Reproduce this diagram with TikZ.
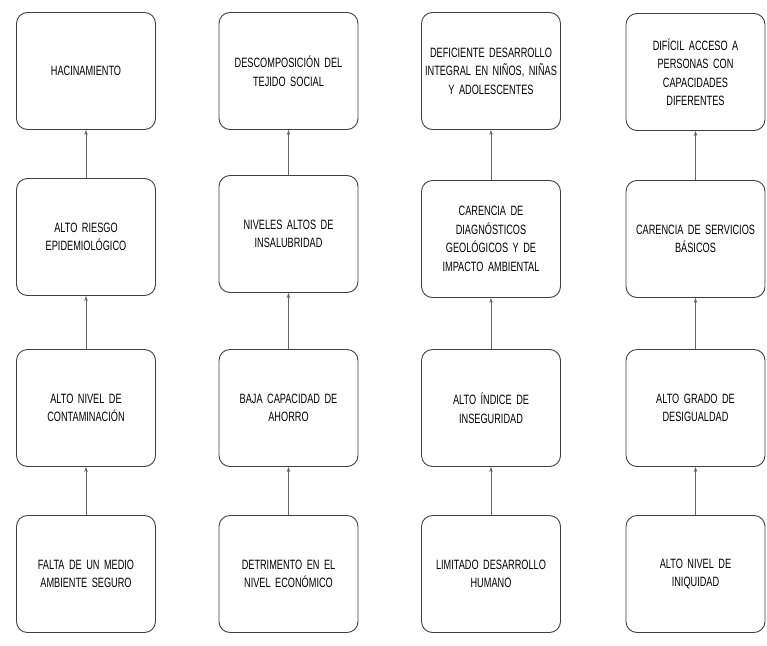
\documentclass[tikz,border=0pt]{standalone}
\usepackage{fontspec}
\setmainfont{Liberation Sans}[FakeStretch=0.68]
\usetikzlibrary{arrows.meta}
\begin{document}
\begin{tikzpicture}[x=1pt,y=-1pt,
  box/.style={draw=black!75, line width=0.9pt, rounded corners=11pt, minimum width=139pt, minimum height=117pt, align=center, text width=135pt, inner sep=2pt, font=\fontsize{13.5}{18.5}\selectfont, text=black},
  link/.style={draw=black!60, line width=0.7pt, -{Stealth[length=5pt,width=3.5pt]}}]
\useasboundingbox (0,0) rectangle (767,645);
\fill[white] (0,0) rectangle (767,645);
% row 1
\node[box] (a1) at (86,71) {HACINAMIENTO};
\node[box] (b1) at (288.5,71) {DESCOMPOSICIÓN DEL\\TEJIDO SOCIAL};
\node[box] (c1) at (491,71) {DEFICIENTE DESARROLLO\\INTEGRAL EN NIÑOS, NIÑAS\\Y ADOLESCENTES};
\node[box] (d1) at (695.5,72) {DIFÍCIL ACCESO A\\PERSONAS CON\\CAPACIDADES\\DIFERENTES};
% row 2
\node[box] (a2) at (86,237) {ALTO RIESGO\\EPIDEMIOLÓGICO};
\node[box] (b2) at (288.5,234) {NIVELES ALTOS DE\\INSALUBRIDAD};
\node[box] (c2) at (491,239) {CARENCIA DE\\DIAGNÓSTICOS\\GEOLÓGICOS Y DE\\IMPACTO AMBIENTAL};
\node[box] (d2) at (695.5,239) {CARENCIA DE SERVICIOS\\BÁSICOS};
% row 3
\node[box] (a3) at (86,408) {ALTO NIVEL DE\\CONTAMINACIÓN};
\node[box] (b3) at (288.5,408) {BAJA CAPACIDAD DE\\AHORRO};
\node[box] (c3) at (491,408) {ALTO ÍNDICE DE\\INSEGURIDAD};
\node[box] (d3) at (695.5,408) {ALTO GRADO DE\\DESIGUALDAD};
% row 4
\node[box] (a4) at (86,574) {FALTA DE UN MEDIO\\AMBIENTE SEGURO};
\node[box] (b4) at (288.5,574) {DETRIMENTO EN EL\\NIVEL ECONÓMICO};
\node[box] (c4) at (491,574) {LIMITADO DESARROLLO\\HUMANO};
\node[box] (d4) at (695.5,574) {ALTO NIVEL DE\\INIQUIDAD};
% arrows
\foreach \c in {a,b,c,d}{
  \draw[link] (\c4) -- (\c3);
  \draw[link] (\c3) -- (\c2);
  \draw[link] (\c2) -- (\c1);
}
\end{tikzpicture}
\end{document}
